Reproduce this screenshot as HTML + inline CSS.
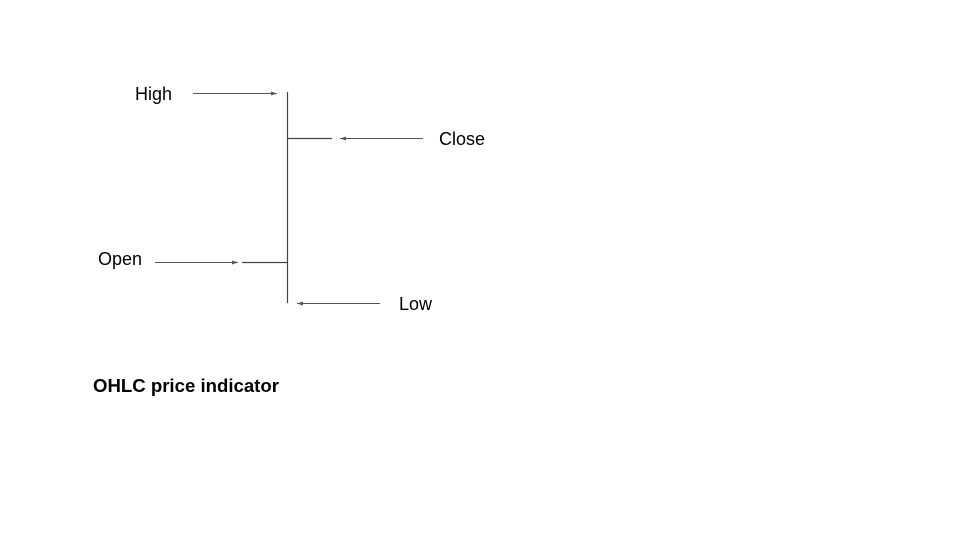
<!DOCTYPE html>
<html><head><style>
body{margin:0;background:#fff;}
svg{display:block;}
text{font-family:"Liberation Sans",Arial,sans-serif;font-size:18px;fill:#000;}
</style></head><body>
<svg width="960" height="540" viewBox="0 0 960 540">
<defs><marker id="a" markerWidth="7" markerHeight="5" refX="6" refY="2.5" orient="auto" markerUnits="userSpaceOnUse"><path d="M0,0.5 L6,2.5 L0,4.5 Z" fill="#555"/></marker></defs>
<g stroke="#444" stroke-width="1.2" fill="none">
<line x1="287.5" y1="92" x2="287.5" y2="303"/>
<line x1="288" y1="138.5" x2="332" y2="138.5"/>
<line x1="242" y1="262.5" x2="287" y2="262.5"/>
</g>
<g stroke="#555" stroke-width="1" fill="none" marker-end="url(#a)">
<line x1="193" y1="93.5" x2="277" y2="93.5"/>
<line x1="423" y1="138.5" x2="340" y2="138.5"/>
<line x1="155" y1="262.5" x2="238" y2="262.5"/>
<line x1="380" y1="303.5" x2="297" y2="303.5"/>
</g>
<text x="135" y="100">High</text>
<text x="439" y="145">Close</text>
<text x="98" y="265">Open</text>
<text x="399" y="310">Low</text>
<text x="93" y="392" font-weight="bold" style="font-size:18.6px">OHLC price indicator</text>
</svg>
</body></html>
